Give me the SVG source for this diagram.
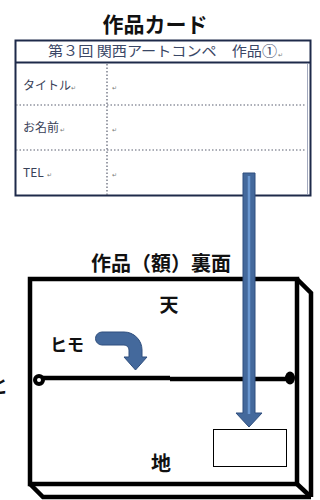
<svg xmlns="http://www.w3.org/2000/svg" width="320" height="500" viewBox="0 0 320 500">
<style>
.jp{font-family:"Noto Sans CJK JP","Noto Sans",sans-serif}
.title{font-weight:bold;fill:#111}
.lab{font-size:12px;fill:#3a4258}
.ret{font-family:"DejaVu Sans",sans-serif;font-size:6px;fill:#777}
.dot{stroke:#5a5f70;stroke-width:1.2;stroke-dasharray:1.5 2;fill:none}
.frm{stroke:#000;stroke-width:4.5;fill:none;stroke-linejoin:miter}
.blue{fill:#44699c;stroke:#2f4f7e;stroke-width:1}
</style>
<rect width="320" height="500" fill="#fff"/>

<g id="card-title"><text class="jp title" x="155" y="32" font-size="21" text-anchor="middle">作品カード</text></g>

<g id="card">
<rect x="15.5" y="40.5" width="295" height="155" fill="#fff" stroke="#1e2a4a" stroke-width="2"/>
<line x1="15" y1="62.5" x2="311" y2="62.5" stroke="#1e2a4a" stroke-width="2"/>
<line x1="307.5" y1="63" x2="307.5" y2="195" stroke="#8a93ad" stroke-width="0.8"/>
<text class="jp" x="48" y="56" font-size="14" fill="#3a4766" textLength="229" lengthAdjust="spacingAndGlyphs">第３回 関西アートコンペ　作品①</text>
<text class="ret" x="278" y="57">↵</text>
<line class="dot" x1="107" y1="64" x2="107" y2="195"/>
<line class="dot" x1="16" y1="105" x2="306" y2="105"/>
<line class="dot" x1="16" y1="150" x2="306" y2="150"/>
<text class="jp lab" x="23" y="90">タイトル</text><text class="ret" x="71" y="90">↵</text>
<text class="jp lab" x="23" y="132">お名前</text><text class="ret" x="60" y="132">↵</text>
<text class="jp lab" x="23" y="177">TEL</text><text class="ret" x="47" y="177">↵</text>
<text class="ret" x="112" y="90">↵</text>
<text class="ret" x="112" y="132">↵</text>
<text class="ret" x="112" y="177">↵</text>
</g>

<g id="frame-title"><text class="jp title" x="161" y="271" font-size="20" text-anchor="middle">作品（額）裏面</text></g>

<g id="frame">
<rect x="30" y="279" width="267" height="205" fill="#fff" class="frm"/>
<polyline class="frm" points="297,279 311,293 311,497"/>
<polyline class="frm" points="30,484 43,497 311,497"/>
<line class="frm" x1="297" y1="484" x2="311" y2="497"/>
<text class="jp title" x="169" y="312" font-size="19" text-anchor="middle">天</text>
<text class="jp title" x="161" y="471" font-size="20" text-anchor="middle">地</text>
</g>

<g id="string">
<line x1="39" y1="378" x2="170" y2="378" stroke="#000" stroke-width="4.5"/>
<line x1="170" y1="379" x2="290" y2="379" stroke="#000" stroke-width="4.5"/>
<circle cx="39" cy="380" r="4" fill="#fff" stroke="#000" stroke-width="4"/>
<ellipse cx="290" cy="378" rx="5" ry="6.5" fill="#000"/>
<text class="jp title" x="50" y="351" font-size="17">ヒモ</text>
</g>

<g id="cut-text"><text class="jp title" x="-11" y="393" font-size="19">と</text></g>

<g id="label-box"><rect x="213.5" y="429.5" width="73" height="37" fill="#fff" stroke="#000" stroke-width="1"/></g>

<g id="connectors">
<path class="blue" d="M102,332 H124 A18,18 0 0 1 142,350 V357 H147 L135.5,370 L124,357 H129 V350 A5,5 0 0 0 124,345 H102 A6.5,6.5 0 0 1 102,332 Z"/>
<path class="blue" d="M243,173 H255 V413 H262 L249,427 L236,413 H243 Z"/>
<line x1="249" y1="176" x2="249" y2="414" stroke="#6a97d0" stroke-width="2.5"/>
</g>
</svg>
